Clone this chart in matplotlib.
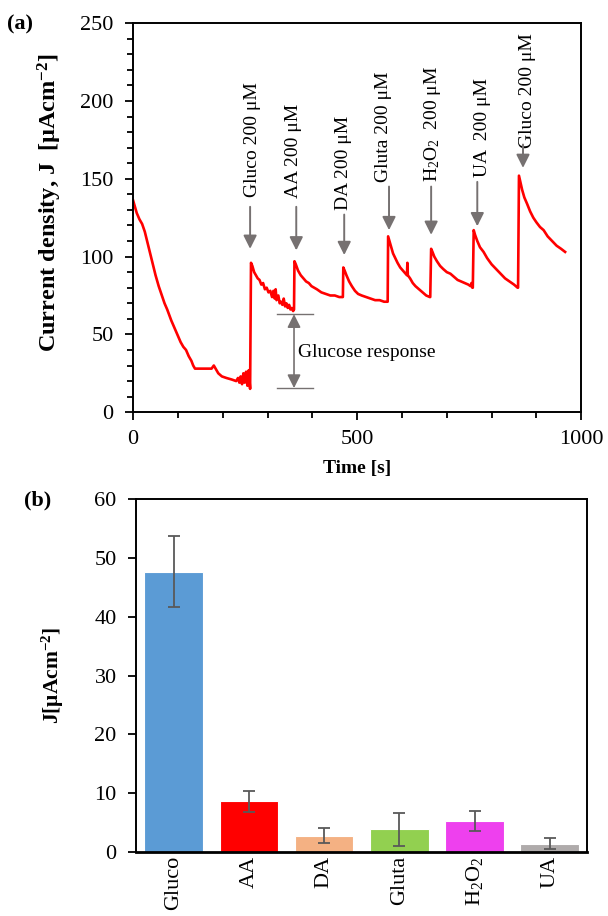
import matplotlib
matplotlib.use('Agg')
import matplotlib.pyplot as plt
import numpy as np
from matplotlib.ticker import MultipleLocator

plt.rcParams['font.family'] = 'Liberation Serif'
plt.rcParams['mathtext.fontset'] = 'custom'
plt.rcParams['mathtext.rm'] = 'Liberation Serif'
plt.rcParams['mathtext.it'] = 'Liberation Serif:italic'
plt.rcParams['mathtext.bf'] = 'Liberation Serif:bold'

# (a) chronoamperometric curve, time in s, current density in uA/cm2
time = [0, 4, 8, 14, 20, 26, 32, 38, 44, 50, 57, 64, 70, 76, 85, 94, 100, 106, 112, 118,
        124, 130, 134, 138, 150, 165, 175, 180, 184, 190, 198, 208, 220, 230, 234, 237,
        240, 243, 246, 249, 252, 255, 258, 261,
        263, 266, 270, 274, 278, 282, 286, 290, 294, 298, 302, 306, 310, 313, 316, 318,
        320, 324, 327, 330, 333, 336, 339, 342, 345, 348, 351, 354, 357,
        359, 360, 363, 368, 374, 380, 386, 392, 398, 404, 410, 420, 430, 440, 450, 460, 467,
        468, 469, 472, 476, 482, 488, 495, 502, 510, 520, 530, 540, 550, 560, 567,
        568, 569, 572, 576, 580, 585, 590, 596, 602, 608, 611, 612, 613, 618, 624, 630,
        638, 646, 654, 662,
        663, 665, 668, 672, 678, 685, 692, 700, 708, 716, 724, 732, 740, 748, 753, 755, 757,
        758, 760, 763, 768, 774, 782, 790, 800, 810, 820, 830, 840, 850, 858,
        859, 861, 864, 868, 873, 879, 886, 893, 900, 908, 916, 925, 935, 945, 955, 964]
current = [136, 132, 128, 124, 121, 116, 109, 102, 95, 88, 81, 75, 70, 66, 59, 53, 49, 45, 42, 40,
           36, 33, 30, 28, 28, 28, 28, 30, 28, 25, 23, 22, 21, 20, 22, 19,
           23, 18, 25, 19, 26, 17, 27, 15,
           96, 94, 90, 88, 86, 85, 82, 83, 79, 80, 77, 78, 74, 78, 73, 79,
           72, 75, 70, 71, 69, 73, 68, 70, 67, 69, 66, 67, 65,
           66, 97, 95, 91, 88, 86, 84, 83, 81, 80, 79, 77, 76, 75, 75, 74, 74,
           74, 93, 91, 88, 84, 81, 78, 76, 75, 74, 73, 72, 72, 71, 71,
           71, 113, 110, 106, 102, 99, 96, 93, 91, 89, 88, 96, 88, 86, 83, 81,
           79, 77, 75, 74,
           74, 105, 103, 100, 97, 94, 92, 90, 89, 87, 85, 84, 83, 82, 81, 83, 80,
           80, 117, 114, 110, 106, 103, 99, 95, 92, 89, 86, 84, 82, 80,
           80, 152, 148, 143, 138, 134, 129, 125, 122, 119, 117, 113, 110, 107, 105, 103]

# injection markers: label, text x, text bottom, arrow x, arrow tail, arrow tip
inj_labels = ['Gluco 200 μM', 'AA 200 μM', 'DA 200 μM', 'Gluta 200 μM',
              'H$_2$O$_2$  200 μM', 'UA  200 μM', 'Gluco 200 μM']
inj_text_t = [266, 357, 469, 558, 667, 779, 879]
inj_text_j = [138, 137.5, 130, 148, 148, 151, 170]
inj_arrow_t = [261, 364, 471, 571, 665, 768, 870]
inj_arrow_tail = [132, 132, 127, 145, 145, 148, 172]
inj_arrow_tip = [105, 104, 101, 117, 114, 119.5, 157]

# glucose response bracket
resp_t = 359
resp_low = 15.5
resp_high = 63

# (b) interference bars
species = ['Gluco', 'AA', 'DA', 'Gluta', 'H$_2$O$_2$', 'UA']
resp = [47.7, 8.6, 2.8, 3.85, 5.25, 1.4]
resp_err = [6.1, 1.8, 1.25, 2.75, 1.7, 0.9]
bar_colors = ['#5B9BD5', '#FF0000', '#F4B183', '#92D050', '#EE40EE', '#AFABAB']

gray = '#767171'

fig = plt.figure(figsize=(6.08, 9.16), dpi=100)
ax1 = fig.add_axes([0.219, 0.550, 0.737, 0.4247])
ax2 = fig.add_axes([0.224, 0.0699, 0.742, 0.385])

# ---- top panel
ax1.plot(time, current, color='red', lw=1.9)
ax1.set_xlim(0, 1000)
ax1.set_ylim(0, 250)
ax1.xaxis.set_major_locator(MultipleLocator(500))
ax1.xaxis.set_minor_locator(MultipleLocator(100))
ax1.yaxis.set_major_locator(MultipleLocator(50))
ax1.yaxis.set_minor_locator(MultipleLocator(10))
ax1.tick_params(which='both', direction='out', labelsize=16, width=1.3)
ax1.tick_params(which='major', length=6)
ax1.tick_params(which='minor', length=4)
ax1.tick_params(axis='y', pad=8)
ax1.tick_params(axis='x', pad=7)
for s in ax1.spines.values():
    s.set_linewidth(1.4)
ax1.set_xlabel('Time [s]', fontsize=14, fontweight='bold', labelpad=8)
ax1.set_ylabel('Current density, J  [μAcm$^{\\mathbf{-2}}$]', fontsize=17.5, fontweight='bold')
ax1.yaxis.set_label_coords(-0.155, 0.54)

for lab, tx, tj, at, a0, a1 in zip(inj_labels, inj_text_t, inj_text_j,
                                   inj_arrow_t, inj_arrow_tail, inj_arrow_tip):
    ax1.text(tx, tj, lab, rotation=90, ha='center', va='bottom', fontsize=14)
    ax1.annotate('', xy=(at, a1), xytext=(at, a0),
                 arrowprops=dict(arrowstyle='-|>,head_length=0.5,head_width=0.25',
                                 color=gray, lw=1.4, mutation_scale=16,
                                 shrinkA=0, shrinkB=0))

ax1.annotate('', xy=(resp_t, resp_low), xytext=(resp_t, resp_high),
             arrowprops=dict(arrowstyle='<|-|>,head_length=0.5,head_width=0.25',
                             color=gray, lw=1.2, mutation_scale=16,
                             shrinkA=0, shrinkB=0))
ax1.plot([321, 402], [resp_high, resp_high], color=gray, lw=1)
ax1.plot([321, 402], [resp_low, resp_low], color=gray, lw=1)
ax1.text(368, 38.5, 'Glucose response', fontsize=14, ha='left', va='center')

fig.text(0.012, 0.973, '(a)', fontsize=16, fontweight='bold', va='center')

# ---- bottom panel
x = np.arange(len(species))
ax2.bar(x, resp, width=0.78, color=bar_colors, edgecolor='white', linewidth=0.8, zorder=2)
ax2.errorbar(x, resp, yerr=resp_err, fmt='none', ecolor='#595959', elinewidth=1.3,
             capsize=4, capthick=1.3, zorder=3)
ax2.set_xlim(-0.5, 5.5)
ax2.set_ylim(0, 60)
ax2.yaxis.set_major_locator(MultipleLocator(10))
ax2.set_xticks(x)
ax2.set_xticklabels(species, rotation=90)
ax2.tick_params(axis='x', length=0, labelsize=16, pad=3)
ax2.tick_params(axis='y', direction='out', length=6, width=1.3, labelsize=16, pad=8)
for s in ax2.spines.values():
    s.set_linewidth(1.4)
ax2.spines['bottom'].set_linewidth(2)
ax2.set_ylabel('J[μAcm$^{\\mathbf{-2}}$]', fontsize=15.5, fontweight='bold')
ax2.yaxis.set_label_coords(-0.155, 0.5)

fig.text(0.04, 0.454, '(b)', fontsize=16, fontweight='bold', va='center')

fig.savefig('out.png', dpi=100)
